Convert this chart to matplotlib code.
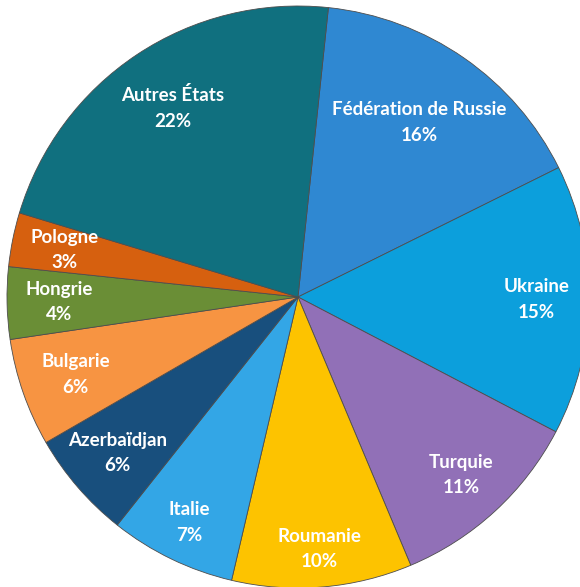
import numpy as np
import matplotlib.pyplot as plt

# parts des pays (%), dans le sens horaire depuis le haut
pays = ["Fédération de Russie", "Ukraine", "Turquie", "Roumanie", "Italie",
        "Azerbaïdjan", "Bulgarie", "Hongrie", "Pologne", "Autres États"]
parts = [16, 15, 11, 10, 7, 6, 6, 4, 3, 22]
couleurs = ["#2f88d2", "#0c9fdc", "#9170b7", "#fdc300", "#33a6e6",
            "#184f7d", "#f79442", "#6a8e36", "#d6600f", "#10707f"]
# distance radiale des étiquettes (fraction du rayon)
dist_etiq = [0.73, 0.82, 0.83, 0.87, 0.86, 0.82, 0.81, 0.82, 0.82, 0.78]

W, H = 580, 587
fig = plt.figure(figsize=(W / 100, H / 100), dpi=100)
ax = fig.add_axes([0, 0, 1, 1])

cx, cy, R = 298, H - 297, 291

wedges, _ = ax.pie(parts, colors=couleurs, startangle=84, counterclock=False,
                   center=(cx, cy), radius=R, frame=True,
                   wedgeprops=dict(edgecolor="#4d4d4d", linewidth=0.6))

ax.set_xlim(0, W)
ax.set_ylim(0, H)
ax.set_aspect("equal")
ax.axis("off")

for w, nom, p, d in zip(wedges, pays, parts, dist_etiq):
    ang = np.deg2rad((w.theta1 + w.theta2) / 2)
    x = cx + d * R * np.cos(ang)
    y = cy + d * R * np.sin(ang)
    ax.text(x, y, f"{nom}\n{p}%", ha="center", va="center", color="white",
            fontsize=13.5, fontweight="bold", family="Lato", linespacing=1.6)

fig.savefig("out.png", dpi=100)
